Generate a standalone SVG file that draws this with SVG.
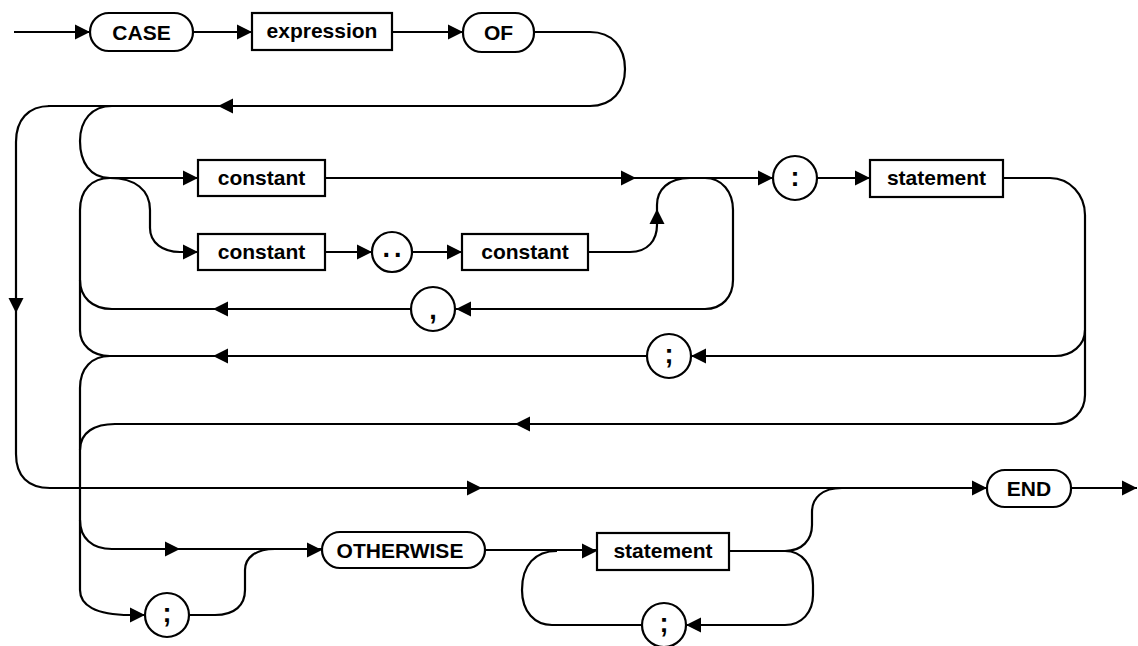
<svg xmlns="http://www.w3.org/2000/svg" xmlns:xlink="http://www.w3.org/1999/xlink" width="1138" height="646" viewBox="0 0 1138 646">
<style>
.ln{fill:none;stroke:#000;stroke-width:2.2;stroke-linecap:butt}
.nd{fill:#fff;stroke:#000;stroke-width:2.2}
.tx{font-family:"Liberation Sans",Arial,sans-serif;font-size:21px;font-weight:bold;text-anchor:middle;fill:#000}
.pu{font-family:"Liberation Sans",Arial,sans-serif;font-size:27px;font-weight:bold;text-anchor:middle;fill:#000}
</style>
<defs>
<path id="ah" d="M0,0 L-15,-7.5 L-15,7.5 Z" fill="#000"/>
</defs>
<rect width="1138" height="646" fill="#fff"/>
<g id="connectors">
<path class="ln" d="M14,32 H90"/>
<path class="ln" d="M193,32 H252"/>
<path class="ln" d="M392,32 H463"/>
<path class="ln" d="M534,32 H590 C612,32 625,47 625,69 C625,91 612,106 590,106 H48"/>
<path class="ln" d="M50,106 C28,106 16,120 16,142 V454 C16,476 28,488 50,488 H987"/>
<path class="ln" d="M112,106 C92,106 80,120 80,141 C80,162 90,178 110,178"/>
<path class="ln" d="M110,178 H198"/>
<path class="ln" d="M110,178 C92,178 80,190 80,210 V330 C80,345 92,356 110,356"/>
<path class="ln" d="M411,309 H112 C92,309 80,297 80,280"/>
<path class="ln" d="M110,356 C92,356 80,368 80,388 V590 C80,605 95,615 130,615 H145"/>
<path class="ln" d="M80,520 C80,538 92,549 112,549 H322"/>
<path class="ln" d="M1055,424 H115 C95,424 80,432 80,450"/>
<path class="ln" d="M110,178 C135,178 150,190 150,210 V228 C150,243 163,252 180,252 H198"/>
<path class="ln" d="M325,252 H372"/>
<path class="ln" d="M412,252 H462"/>
<path class="ln" d="M588,252 H630 C648,252 657,240 657,225 V205 C657,190 668,178 690,178"/>
<path class="ln" d="M325,178 H773"/>
<path class="ln" d="M690,178 H705 C722,178 733,192 733,210 V280 C733,297 722,309 705,309 H456"/>
<path class="ln" d="M817,178 H870"/>
<path class="ln" d="M1003,178 H1050 C1070,178 1085,195 1085,215 V330 C1085,345 1072,356 1055,356 H691"/>
<path class="ln" d="M1085,330 V395 C1085,412 1072,424 1055,424"/>
<path class="ln" d="M647,356 H110"/>
<path class="ln" d="M1071,488 H1137"/>
<path class="ln" d="M189,615 H215 C235,615 245,605 245,590 V570 C245,558 255,549 275,549"/>
<path class="ln" d="M485,550 H597"/>
<path class="ln" d="M729,551 H785 C802,551 812,540 812,525 V512 C812,498 822,488 842,488"/>
<path class="ln" d="M785,551 C802,551 813,565 813,585 V595 C813,612 802,625 785,625 H686"/>
<path class="ln" d="M642,625 H552 C535,625 522,612 522,590 C522,565 535,551 557,551"/>
<use href="#ah" transform="translate(90,32)"/>
<use href="#ah" transform="translate(252,32)"/>
<use href="#ah" transform="translate(463,32)"/>
<use href="#ah" transform="translate(218,106) rotate(180)"/>
<use href="#ah" transform="translate(16,313) rotate(90)"/>
<use href="#ah" transform="translate(198,178)"/>
<use href="#ah" transform="translate(636,178)"/>
<use href="#ah" transform="translate(773,178)"/>
<use href="#ah" transform="translate(870,178)"/>
<use href="#ah" transform="translate(198,252)"/>
<use href="#ah" transform="translate(372,252)"/>
<use href="#ah" transform="translate(462,252)"/>
<use href="#ah" transform="translate(657,209) rotate(-90)"/>
<use href="#ah" transform="translate(456,309) rotate(180)"/>
<use href="#ah" transform="translate(213,309) rotate(180)"/>
<use href="#ah" transform="translate(691,356) rotate(180)"/>
<use href="#ah" transform="translate(213,356) rotate(180)"/>
<use href="#ah" transform="translate(515,424) rotate(180)"/>
<use href="#ah" transform="translate(482,488)"/>
<use href="#ah" transform="translate(987,488)"/>
<use href="#ah" transform="translate(1137,488)"/>
<use href="#ah" transform="translate(180,549)"/>
<use href="#ah" transform="translate(322,550)"/>
<use href="#ah" transform="translate(145,615)"/>
<use href="#ah" transform="translate(597,551)"/>
<use href="#ah" transform="translate(686,625) rotate(180)"/>
</g>
<g id="n-case"><rect class="nd" x="90" y="13" width="103" height="38" rx="19"/><text class="tx" x="141.5" y="40">CASE</text></g>
<g id="n-expression"><rect class="nd" x="252" y="13" width="140" height="37"/><text class="tx" x="322" y="38">expression</text></g>
<g id="n-of"><rect class="nd" x="463" y="13" width="71" height="39" rx="19"/><text class="tx" x="498.5" y="40">OF</text></g>
<g id="n-constant1"><rect class="nd" x="198" y="160" width="127" height="36"/><text class="tx" x="261.5" y="185">constant</text></g>
<g id="n-constant2"><rect class="nd" x="198" y="234" width="127" height="36"/><text class="tx" x="261.5" y="259">constant</text></g>
<g id="n-range"><circle class="nd" cx="392" cy="252" r="20"/><text class="pu" x="394" y="257" letter-spacing="4">..</text></g>
<g id="n-constant3"><rect class="nd" x="462" y="234" width="126" height="36"/><text class="tx" x="525" y="259">constant</text></g>
<g id="n-comma"><circle class="nd" cx="433" cy="309" r="22"/><text class="pu" x="433" y="319">,</text></g>
<g id="n-colon"><circle class="nd" cx="795" cy="178" r="22"/><text class="pu" x="795" y="186">:</text></g>
<g id="n-statement1"><rect class="nd" x="870" y="160" width="133" height="37"/><text class="tx" x="936.5" y="185">statement</text></g>
<g id="n-semi1"><circle class="nd" cx="669" cy="356" r="22"/><text class="pu" x="669" y="363">;</text></g>
<g id="n-end"><rect class="nd" x="987" y="470" width="84" height="37" rx="18"/><text class="tx" x="1029" y="496">END</text></g>
<g id="n-otherwise"><rect class="nd" x="322" y="532" width="163" height="36" rx="18"/><text class="tx" x="400" y="558">OTHERWISE</text></g>
<g id="n-semi2"><circle class="nd" cx="167" cy="615" r="22"/><text class="pu" x="167" y="622">;</text></g>
<g id="n-statement2"><rect class="nd" x="597" y="533" width="132" height="37"/><text class="tx" x="663" y="558">statement</text></g>
<g id="n-semi3"><circle class="nd" cx="664" cy="625" r="22"/><text class="pu" x="664" y="632">;</text></g>
</svg>
